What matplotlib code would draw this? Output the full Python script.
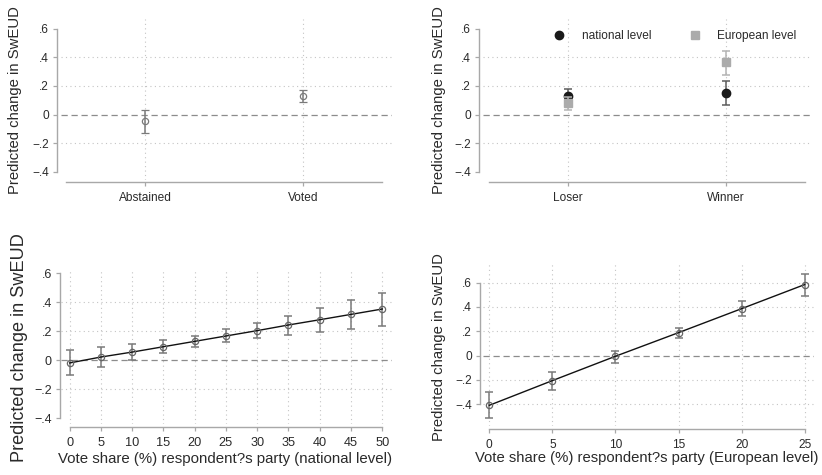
import matplotlib.pyplot as plt

plt.rcParams['font.family'] = ['Liberation Sans', 'DejaVu Sans']

W, H = 822, 475
PX = 72.0 / 100  # points per pixel at dpi 100

# top-left: turnout
turnout_cats = ['Abstained', 'Voted']
turnout_est = [-0.045, 0.128]
turnout_lo = [-0.125, 0.090]
turnout_hi = [0.035, 0.170]

# top-right: loser / winner
wl_cats = ['Loser', 'Winner']
nat_est = [0.128, 0.153]
nat_lo = [0.080, 0.068]
nat_hi = [0.180, 0.235]
eur_est = [0.078, 0.370]
eur_lo = [0.033, 0.277]
eur_hi = [0.120, 0.447]

# bottom-left: national vote share
nat_share = [0, 5, 10, 15, 20, 25, 30, 35, 40, 45, 50]
nat_share_est = [-0.018, 0.023, 0.057, 0.094, 0.131, 0.168, 0.205, 0.244, 0.280, 0.317, 0.354]
nat_share_lo = [-0.099, -0.046, 0.005, 0.048, 0.092, 0.124, 0.154, 0.177, 0.198, 0.218, 0.239]
nat_share_hi = [0.069, 0.092, 0.110, 0.138, 0.168, 0.214, 0.257, 0.308, 0.363, 0.416, 0.467]

# bottom-right: European vote share
eur_share = [0, 5, 10, 15, 20, 25]
eur_share_est = [-0.408, -0.205, -0.005, 0.189, 0.386, 0.584]
eur_share_lo = [-0.512, -0.282, -0.058, 0.148, 0.329, 0.493]
eur_share_hi = [-0.300, -0.137, 0.038, 0.230, 0.447, 0.674]

yticks = [-0.4, -0.2, 0, 0.2, 0.4, 0.6]
ytick_labels = ['\u2212.4', '\u2212.2', '0', '.2', '.4', '.6']

SPINE = '#a8a8a8'
GRID = '#c4c4c4'
BAR = '#7a7a7a'
TXT = '#2a2a2a'

fig = plt.figure(figsize=(W / 100, H / 100), dpi=100)


def make_ax(box, xlim, ylim, left_off, bottom_off, xbounds):
    l, t, r, b = box
    ax = fig.add_axes([l / W, 1 - b / H, (r - l) / W, (b - t) / H])
    ax.set_xlim(xlim)
    ax.set_ylim(ylim)
    for s in ['top', 'right']:
        ax.spines[s].set_visible(False)
    ax.spines['left'].set_position(('outward', left_off * PX))
    ax.spines['bottom'].set_position(('outward', bottom_off * PX))
    ax.spines['left'].set_bounds(-0.4, 0.6)
    ax.spines['bottom'].set_bounds(*xbounds)
    for s in ['left', 'bottom']:
        ax.spines[s].set_color(SPINE)
        ax.spines[s].set_linewidth(1.0)
    ax.set_yticks(yticks)
    ax.set_yticklabels(ytick_labels)
    ax.tick_params(axis='both', length=4 * PX, width=0.9, color=SPINE,
                   labelsize=8.6, labelcolor=TXT)
    ax.tick_params(axis='y', pad=3)
    ax.tick_params(axis='x', pad=4)
    ax.axhline(0, color='#8c8c8c', lw=0.9, ls=(0, (5, 3)), zorder=1)
    return ax


def grid(ax, ys, xs):
    for y in ys:
        ax.axhline(y, color=GRID, lw=0.8, ls=(0, (1, 3)), zorder=0)
    for x in xs:
        ax.axvline(x, color=GRID, lw=0.8, ls=(0, (1, 3)), zorder=0)


def yerr(est, lo, hi):
    return [[e - a for e, a in zip(est, lo)], [b - e for e, b in zip(est, hi)]]


def ylab(ax, text, x, y, size):
    # x is the right edge of the rotated label (pixels)
    ax.set_ylabel(text, fontsize=size, color=TXT)
    ax.yaxis.set_label_coords(x / W, 1 - y / H, transform=fig.transFigure)


# ---- panel 1
ax1 = make_ax((61, 19, 392, 180), (-0.532, 1.563), (-0.456, 0.667), 4, 2, (-0.5, 1.5))
grid(ax1, [-0.2, 0.2, 0.4], range(len(turnout_cats)))
ax1.errorbar(range(len(turnout_cats)), turnout_est, yerr=yerr(turnout_est, turnout_lo, turnout_hi),
             fmt='o', mfc='none', mec=BAR, ms=4.5, mew=0.9, ecolor=BAR, elinewidth=1.1,
             capsize=2.8, capthick=1.1, zorder=3)
ax1.set_xticks(range(len(turnout_cats)))
ax1.set_xticklabels(turnout_cats)
ylab(ax1, 'Predicted change in SwEUD', 22, 100.5, 10.7)

# ---- panel 2
ax2 = make_ax((483, 19, 811, 180), (-0.538, 1.538), (-0.456, 0.667), 4, 2, (-0.5, 1.5))
grid(ax2, [-0.2, 0.2, 0.4], range(len(wl_cats)))
ax2.errorbar(range(len(wl_cats)), nat_est, yerr=yerr(nat_est, nat_lo, nat_hi),
             fmt='o', color='#1a1a1a', ms=6, ecolor='#5c5c5c', elinewidth=1.1,
             capsize=2.8, capthick=1.1, zorder=3, label='national level')
ax2.errorbar(range(len(wl_cats)), eur_est, yerr=yerr(eur_est, eur_lo, eur_hi),
             fmt='s', color='#ababab', ms=5.5, ecolor='#b4b4b4', elinewidth=1.1,
             capsize=2.8, capthick=1.1, zorder=4, label='European level')
ax2.set_xticks(range(len(wl_cats)))
ax2.set_xticklabels(wl_cats)
ylab(ax2, 'Predicted change in SwEUD', 446, 100.5, 10.7)
h, lb = ax2.get_legend_handles_labels()
hh = [hd[0] for hd in h]
ax2.legend(hh, lb, ncol=2, frameon=False, fontsize=8.6, loc='center',
           bbox_to_anchor=(675 / W, 1 - 36 / H), bbox_transform=fig.transFigure,
           handlelength=1.0, handletextpad=1.35, columnspacing=3.2, labelcolor=TXT)

# ---- panel 3
ax3 = make_ax((61, 269, 392, 424), (-1.39, 51.56), (-0.439, 0.63), 1, 3, (0, 50))
grid(ax3, [-0.2, 0.2, 0.4], nat_share)
ax3.errorbar(nat_share, nat_share_est, yerr=yerr(nat_share_est, nat_share_lo, nat_share_hi),
             fmt='none', ecolor=BAR, elinewidth=1.1, capsize=2.8, capthick=1.1, zorder=3)
ax3.plot(nat_share, nat_share_est, color='#111111', lw=1.0, zorder=4)
ax3.plot(nat_share, nat_share_est, 'o', mfc='none', mec='#666666', ms=4.5, mew=0.9, zorder=5)
ax3.set_xticks(nat_share)
ax3.tick_params(axis='x', labelsize=9.2)
ax3.tick_params(axis='y', labelsize=9.0)
ax3.set_xlabel('Vote share (%) respondent?s party (national level)', fontsize=10.8, color=TXT)
ax3.xaxis.set_label_coords(225.5 / W, 1 - 452 / H, transform=fig.transFigure)
ylab(ax3, 'Predicted change in SwEUD', 28, 348, 13.1)

# ---- panel 4
ax4 = make_ax((483, 264, 814, 426), (-0.5, 25.74), (-0.578, 0.753), 3, 3, (0, 25))
grid(ax4, [-0.4, -0.2, 0.2, 0.4, 0.6], eur_share)
ax4.errorbar(eur_share, eur_share_est, yerr=yerr(eur_share_est, eur_share_lo, eur_share_hi),
             fmt='none', ecolor=BAR, elinewidth=1.1, capsize=2.8, capthick=1.1, zorder=3)
ax4.plot(eur_share, eur_share_est, color='#111111', lw=1.0, zorder=4)
ax4.plot(eur_share, eur_share_est, 'o', mfc='none', mec='#666666', ms=4.5, mew=0.9, zorder=5)
ax4.set_xticks(eur_share)
ax4.set_xlabel('Vote share (%) respondent?s party (European level)', fontsize=10.7, color=TXT)
ax4.xaxis.set_label_coords(647 / W, 1 - 451 / H, transform=fig.transFigure)
ylab(ax4, 'Predicted change in SwEUD', 446, 347, 10.7)

fig.savefig('out.png', dpi=100)
